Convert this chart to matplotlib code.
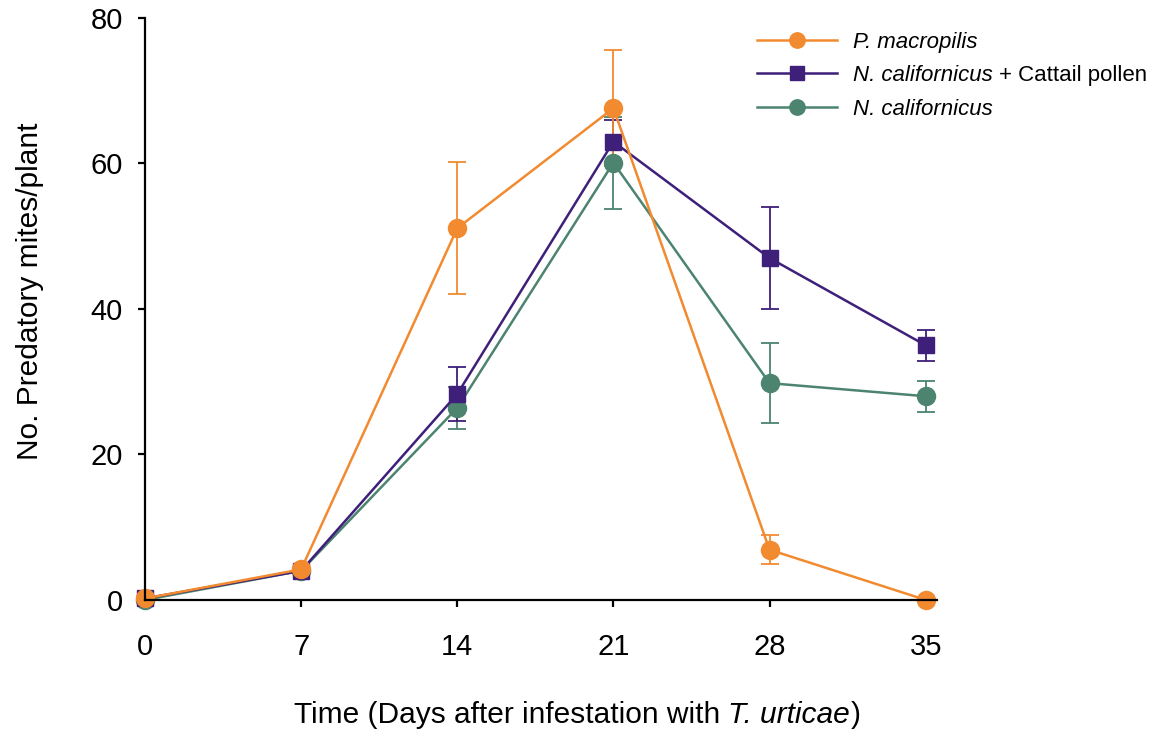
import matplotlib
matplotlib.use("Agg")
import matplotlib.pyplot as plt
from matplotlib.offsetbox import TextArea, HPacker, AnchoredOffsetbox

plt.rcParams['font.family'] = ['Liberation Sans', 'DejaVu Sans']

days = [0, 7, 14, 21, 28, 35]

pm_mean = [0.2, 4.2, 51.1, 67.6, 6.9, 0.0]
pm_err = [0.0, 0.0, 9.1, 8.0, 2.0, 0.0]

ncp_mean = [0.2, 4.0, 28.3, 63.0, 47.0, 35.0]
ncp_err = [0.0, 0.0, 3.7, 3.0, 7.0, 2.1]

nc_mean = [0.0, 4.0, 26.4, 60.1, 29.8, 28.0]
nc_err = [0.0, 0.0, 2.9, 6.3, 5.5, 2.1]

labels = ['P. macropilis', 'N. californicus', 'N. californicus']
label_suffix = '+ Cattail pollen'
xlabel_parts = ['Time (Days after infestation with', 'T. urticae', ')']
ylabel = 'No. Predatory mites/plant'

c_orange = '#F28A30'
c_purple = '#3E1F7A'
c_green = '#4C8470'

fig = plt.figure(figsize=(11.61, 7.37), dpi=100)
ax = fig.add_axes([0.1249, 0.186, 0.682, 0.7896])

common = dict(capsize=6.8, elinewidth=1.3, capthick=1.3, lw=1.8, clip_on=False)
c_nc = ax.errorbar(days, nc_mean, yerr=nc_err, color=c_green, marker='o', ms=13, **common)
c_ncp = ax.errorbar(days, ncp_mean, yerr=ncp_err, color=c_purple, marker='s', ms=12, **common)
c_pm = ax.errorbar(days, pm_mean, yerr=pm_err, color=c_orange, marker='o', ms=13, **common)

ax.set_xlim(0, 35.5)
ax.set_ylim(0, 80)
ax.set_xticks(days)
ax.set_yticks([0, 20, 40, 60, 80])
ax.spines['top'].set_visible(False)
ax.spines['right'].set_visible(False)
for s in ('left', 'bottom'):
    ax.spines[s].set_linewidth(1.6)
ax.tick_params(axis='x', direction='out', length=5, width=1.6, pad=19, labelsize=21)
ax.tick_params(axis='y', direction='out', length=5, width=1.6, pad=11, labelsize=21)

ax.set_ylabel(ylabel, fontsize=21.5)
ax.yaxis.set_label_coords(-0.128, 0.531)

fs = 21.5
t1 = TextArea(xlabel_parts[0], textprops=dict(fontsize=fs))
t2 = TextArea(xlabel_parts[1], textprops=dict(fontsize=fs, style='italic'))
t3 = TextArea(xlabel_parts[2], textprops=dict(fontsize=fs))
inner = HPacker(children=[t1, t2], align='baseline', pad=0, sep=6)
box = HPacker(children=[inner, t3], align='baseline', pad=0, sep=0.5)
anch = AnchoredOffsetbox(loc='center', child=box, bbox_to_anchor=(0.497, 0.030),
                         bbox_transform=fig.transFigure, frameon=False, pad=0, borderpad=0)
fig.add_artist(anch)

leg = fig.legend([c_pm[0], c_ncp[0], c_nc[0]], labels, loc='upper left',
                 bbox_to_anchor=(0.635, 0.984), frameon=False, fontsize=16,
                 handlelength=3.6, handletextpad=0.7, labelspacing=0.56,
                 markerscale=0.85)
for t in leg.get_texts():
    t.set_fontstyle('italic')
mid = leg.get_texts()[1]
ann = plt.Annotation(label_suffix, xy=(1, 0), xycoords=mid, xytext=(4.5, 0),
                     textcoords='offset points', va='bottom', ha='left', fontsize=16)
ann.set_zorder(20)
fig.add_artist(ann)

fig.savefig('out.png', dpi=100)
